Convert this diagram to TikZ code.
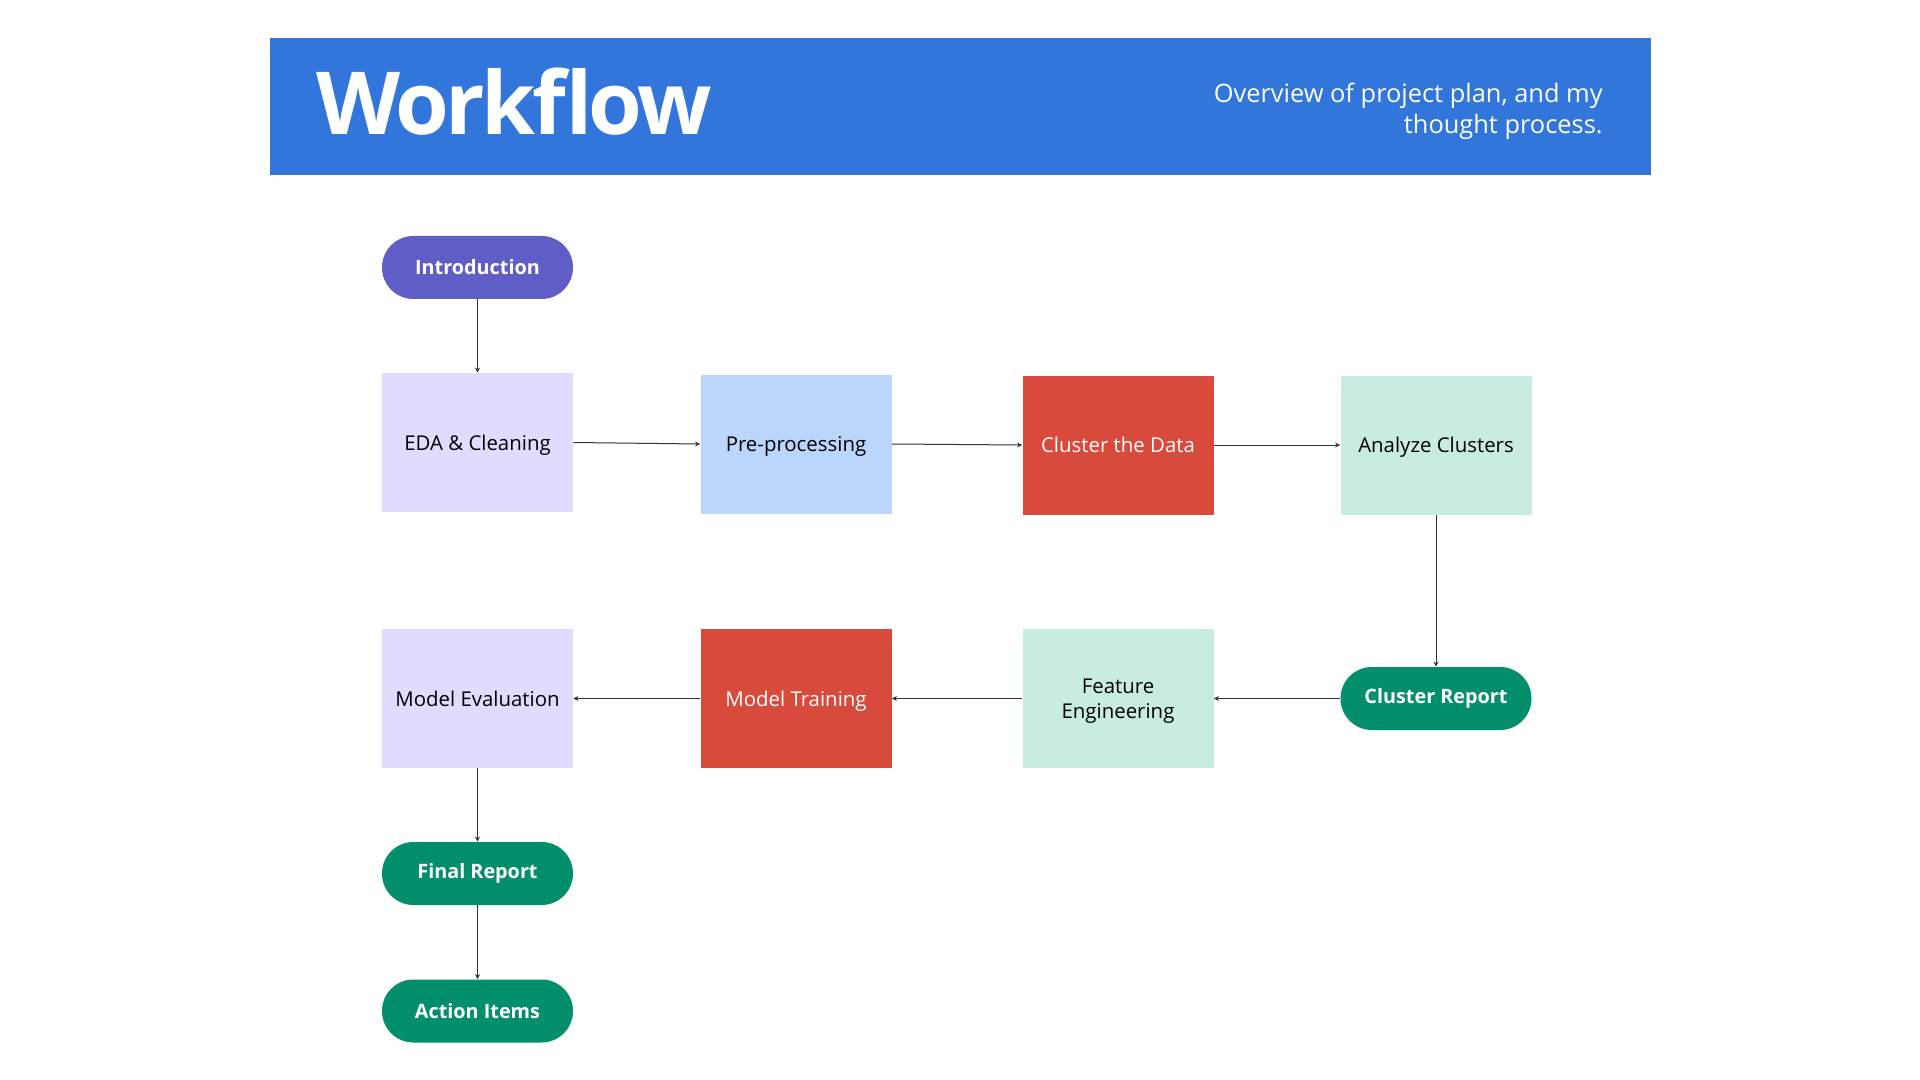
\documentclass[tikz,border=0pt]{standalone}
\usepackage{fontspec}
\setmainfont{Open Sans}
\usetikzlibrary{arrows.meta}
\definecolor{banner}{RGB}{50,118,219}
\definecolor{purp}{RGB}{96,93,199}
\definecolor{lav}{RGB}{224,220,255}
\definecolor{lblue}{RGB}{186,214,252}
\definecolor{redbox}{RGB}{216,74,59}
\definecolor{mint}{RGB}{200,236,228}
\definecolor{greenp}{RGB}{3,143,107}
\definecolor{arr}{RGB}{50,50,50}
\tikzset{
  box/.style={rectangle, minimum width=95.5pt, minimum height=69.5pt, inner sep=2pt, text depth=0pt, align=center, font=\fontsize{10.2}{12.5}\selectfont},
  pill/.style={rectangle, rounded corners=15.7pt, minimum width=95.5pt, minimum height=31.5pt, inner sep=2pt, text=white, font=\fontsize{9.9}{12}\selectfont\bfseries},
  conn/.style={draw=arr, line width=0.5pt, -{Stealth[length=2.5pt,width=2.5pt]}}
}
\begin{document}
\begin{tikzpicture}[x=0.5pt,y=-0.5pt]
\useasboundingbox (0,0) rectangle (1920,1080);
\fill[white] (0,0) rectangle (1920,1080);
\fill[banner] (270,38) rectangle (1651,175);
\node[anchor=base west, inner sep=0pt, text=white, font=\fontsize{43.5}{50}\selectfont\bfseries\addfontfeatures{LetterSpace=-4}] (title) at (316,135) {Workflow};
\node[anchor=north east, inner sep=0pt, text=white, align=right, font=\fontsize{12.7}{15.5}\selectfont] (sub) at (1603,83) {Overview of project plan, and my\\thought process.};

\node[pill, fill=purp] (intro) at (477.5,267.5) {Introduction};
\node[box, fill=lav] (eda) at (477.5,442.5) {EDA \& Cleaning};
\node[box, fill=lblue] (pre) at (796,444) {Pre-processing};
\node[box, fill=redbox, text=white] (clus) at (1118,445) {Cluster the Data};
\node[box, fill=mint] (ana) at (1436,445) {Analyze Clusters};
\node[pill, fill=greenp] (crep) at (1436,698.5) {Cluster Report};
\node[box, fill=mint] (feat) at (1118,698.5) {Feature\\Engineering};
\node[box, fill=redbox, text=white] (train) at (796,698.5) {Model Training};
\node[box, fill=lav] (eval) at (477.5,698.5) {Model Evaluation};
\node[pill, fill=greenp] (final) at (477.5,873.5) {Final Report};
\node[pill, fill=greenp] (act) at (477.5,1011) {Action Items};

\draw[conn] (intro.south) -- (eda.north);
\draw[conn] (eda.east) -- (pre.west);
\draw[conn] (pre.east) -- (clus.west);
\draw[conn] (clus.east) -- (ana.west);
\draw[conn] (ana.south) -- (crep.north);
\draw[conn] (crep.west) -- (feat.east);
\draw[conn] (feat.west) -- (train.east);
\draw[conn] (train.west) -- (eval.east);
\draw[conn] (eval.south) -- (final.north);
\draw[conn] (final.south) -- (act.north);
\end{tikzpicture}
\end{document}
